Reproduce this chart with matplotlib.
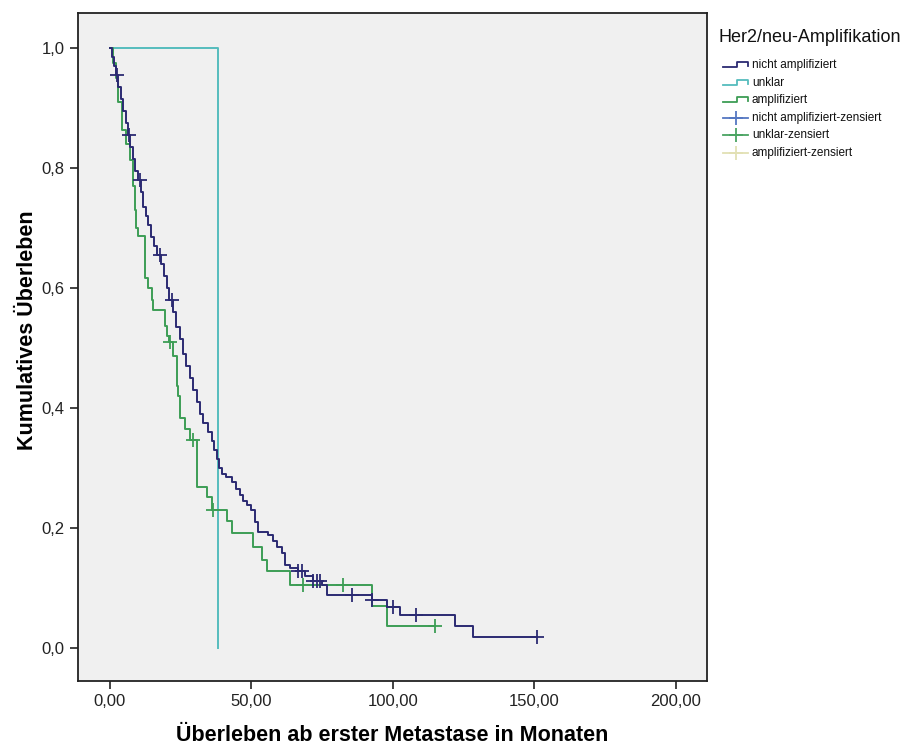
import numpy as np
import matplotlib
matplotlib.use("Agg")
import matplotlib.pyplot as plt

plt.rcParams["font.family"] = ["Liberation Sans", "DejaVu Sans"]

# Kaplan-Meier steps (time in months, survival after the drop)
nicht_t = [0, 0.8, 1.5, 2.2, 3.0, 3.8, 4.6, 5.5, 6.3, 7.2, 8.0, 9.0, 9.8, 11.0, 11.8,
           12.6, 13.5, 14.5, 15.5, 16.5, 18.0, 19.0, 20.0, 21.0, 22.3, 23.5, 24.7, 25.8,
           27.0, 28.3, 29.5, 30.6, 31.8, 33.0, 34.5, 35.9, 36.8, 37.7, 38.6, 39.5, 41.0,
           43.0, 44.5, 45.9, 47.0, 48.3, 50.0, 51.2, 52.4, 55.9, 57.5, 58.9, 60.7, 61.8,
           63.6, 66.5, 69.0, 71.8, 74.8, 76.6, 92.5, 97.8, 102.5, 121.9, 128.4]
nicht_s = [1.0, 0.985, 0.97, 0.955, 0.935, 0.915, 0.895, 0.875, 0.855, 0.835, 0.815, 0.795,
           0.78, 0.76, 0.735, 0.72, 0.705, 0.685, 0.67, 0.655, 0.64, 0.62, 0.60, 0.58, 0.56,
           0.535, 0.515, 0.49, 0.47, 0.45, 0.43, 0.41, 0.39, 0.375, 0.36, 0.345, 0.33, 0.315,
           0.30, 0.29, 0.285, 0.277, 0.265, 0.255, 0.245, 0.238, 0.23, 0.21, 0.194, 0.188,
           0.178, 0.169, 0.158, 0.138, 0.133, 0.128, 0.12, 0.112, 0.105, 0.088, 0.08, 0.069,
           0.055, 0.037, 0.019]
nicht_end = 150.8
nicht_cens = [2.5, 6.8, 10.6, 17.7, 21.8, 66.5, 67.7, 71.8, 73.0, 74.2, 85.4, 92.5,
              99.9, 108.1, 150.8]

unklar_t = [0, 38.2]
unklar_s = [1.0, 0.0]
unklar_end = 38.2

ampl_t = [0, 1.0, 2.0, 3.0, 4.1, 5.5, 7.1, 8.0, 8.8, 9.2, 10.0, 12.4, 13.5, 14.7, 15.3,
          19.4, 20.0, 21.0, 22.4, 23.6, 24.1, 24.7, 26.5, 28.3, 30.6, 34.2, 36.0, 41.2,
          43.0, 50.6, 53.6, 55.4, 63.6, 92.5, 98.0]
ampl_s = [1.0, 0.975, 0.95, 0.91, 0.863, 0.84, 0.813, 0.77, 0.73, 0.70, 0.686, 0.616,
          0.60, 0.58, 0.563, 0.536, 0.52, 0.51, 0.486, 0.436, 0.42, 0.383, 0.365, 0.347,
          0.269, 0.252, 0.23, 0.211, 0.191, 0.169, 0.147, 0.128, 0.105, 0.07, 0.036]
ampl_end = 114.8
ampl_cens = [21.2, 29.5, 36.4, 68.3, 82.4, 114.8]

x_ticks = [0, 50, 100, 150, 200]
x_labels = ["0,00", "50,00", "100,00", "150,00", "200,00"]
y_ticks = [0.0, 0.2, 0.4, 0.6, 0.8, 1.0]
y_labels = ["0,0", "0,2", "0,4", "0,6", "0,8", "1,0"]

NAVY = "#2b2a72"
TEAL = "#55bcbd"
GREEN = "#3d9d55"

fig = plt.figure(figsize=(9.23, 7.51), dpi=100)
ax = fig.add_axes([0.0845, 0.0932, 0.6815, 0.8895])
ax.set_facecolor("#f0f0f0")


def km(t, s, end, cens, color):
    tt = list(t) + [end]
    ss = list(s) + [s[-1]]
    ax.step(tt, ss, where="post", color=color, lw=1.4, zorder=3)
    if cens:
        idx = np.searchsorted(t, cens, side="right") - 1
        cy = np.array(s)[idx]
        ax.plot(cens, cy, ls="none", marker="+", ms=10, mew=1.3, color=color, zorder=4)


km(unklar_t, unklar_s, unklar_end, [], TEAL)
km(ampl_t, ampl_s, ampl_end, ampl_cens, GREEN)
km(nicht_t, nicht_s, nicht_end, nicht_cens, NAVY)

ax.set_xlim(-11.3, 211)
ax.set_ylim(-0.055, 1.058)
ax.set_xticks(x_ticks)
ax.set_xticklabels(x_labels)
ax.set_yticks(y_ticks)
ax.set_yticklabels(y_labels)
ax.tick_params(direction="out", length=6, width=1.2, labelsize=12, colors="#222222")
for sp in ax.spines.values():
    sp.set_linewidth(1.3)
    sp.set_color("#222222")

ax.set_xlabel("Überleben ab erster Metastase in Monaten", fontsize=15.5, fontweight="bold")
ax.xaxis.set_label_coords(0.5, -0.066)
ax.set_ylabel("Kumulatives Überleben", fontsize=15.5, fontweight="bold")
ax.yaxis.set_label_coords(-0.064, 0.525)

# legend drawn by hand in pixel coordinates
lg = fig.add_axes([0, 0, 1, 1], facecolor="none")
lg.set_xlim(0, 923)
lg.set_ylim(751, 0)
lg.axis("off")
lg.text(719, 37, "Her2/neu-Amplifikation", fontsize=13, va="center", ha="left", color="#111111")

leg_names = ["nicht amplifiziert", "unklar", "amplifiziert",
             "nicht amplifiziert-zensiert", "unklar-zensiert", "amplifiziert-zensiert"]
leg_colors = [NAVY, TEAL, GREEN, "#5577c2", "#4aa462", "#e2e0b4"]
y0 = 65
for i, (name, col) in enumerate(zip(leg_names, leg_colors)):
    y = y0 + i * 17.6
    if i < 3:
        lg.plot([723, 737, 737, 748, 748], [y + 2, y + 2, y - 3, y - 3, y + 1], color=col, lw=1.3)
    else:
        lg.plot([723, 748], [y, y], color=col, lw=1.3)
        lg.plot([735.5], [y], marker="+", ms=10, mew=1.3, color=col)
    lg.text(752, y, name, fontsize=8.5, va="center", ha="left", color="#111111")

fig.savefig("out.png", dpi=100)
